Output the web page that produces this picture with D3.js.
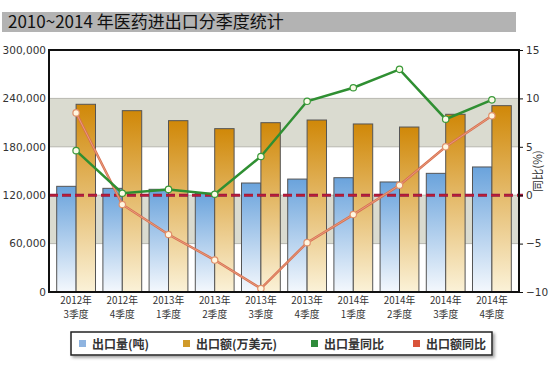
<!DOCTYPE html>
<html><head><meta charset="utf-8">
<script src="https://cdn.jsdelivr.net/npm/d3@7/dist/d3.min.js"></script>
<style>body{margin:0;background:#fff;}svg{display:block;font-family:"Noto Sans CJK SC","DejaVu Sans",sans-serif;}</style>
</head><body>
<svg id="c" width="550" height="374"></svg>
<script>
const years = ["2012年","2012年","2013年","2013年","2013年","2013年","2014年","2014年","2014年","2014年"];
const quarters = ["3季度","4季度","1季度","2季度","3季度","4季度","1季度","2季度","3季度","4季度"];
const exportVolume = [131000,128500,127300,122300,135100,140000,141700,136400,147100,155000];
const exportValue = [232700,224800,212400,202500,209900,213200,208300,204500,220300,231000];
const volumeYoY = [4.6,0.2,0.6,0.1,4.0,9.7,11.1,13.0,7.85,9.85];
const valueYoY = [8.5,-0.96,-4.06,-6.7,-9.64,-4.9,-2.0,1.03,5.0,8.2];
const leftTicks = [0,60000,120000,180000,240000,300000];
const rightTicks = [-10,-5,0,5,10,15];
const legendLabels = ["出口量(吨)","出口额(万美元)","出口量同比","出口额同比"];

const svg = d3.select("#c");
const L=49,R=519,T=50,B=292;
const cats = d3.range(years.length);
const x = d3.scaleBand().domain(cats).range([53,515]).padding(0);
const yL = d3.scaleLinear().domain([0,300000]).range([B,T]);
const yR = d3.scaleLinear().domain([-10,15]).range([B,T]);

// title
svg.append("rect").attr("x",2).attr("y",12).attr("width",514).attr("height",20).attr("fill","#b3b3b3");
svg.append("text").attr("x",8).attr("y",28).attr("font-size",17).attr("fill","#111").text("2010~2014 年医药进出口分季度统计");

const defs = svg.append("defs");
const gb = defs.append("linearGradient").attr("id","gb").attr("x1",0).attr("y1",0).attr("x2",0).attr("y2",1);
gb.append("stop").attr("offset","0%").attr("stop-color","#6aa3dc");
gb.append("stop").attr("offset","100%").attr("stop-color","#f4f8fd");
const go = defs.append("linearGradient").attr("id","go").attr("x1",0).attr("y1",0).attr("x2",0).attr("y2",1);
go.append("stop").attr("offset","0%").attr("stop-color","#d08808");
go.append("stop").attr("offset","100%").attr("stop-color","#fbf2d8");
const sh = defs.append("filter").attr("id","sh").attr("x","-5%").attr("y","-20%").attr("width","115%").attr("height","160%");
sh.append("feDropShadow").attr("dx",2).attr("dy",2).attr("stdDeviation",1.5).attr("flood-color","#777").attr("flood-opacity",0.7);

// bands
for(let i=0;i<leftTicks.length-1;i++){
  if(i%2===1){
    svg.append("rect").attr("x",L).attr("width",R-L)
      .attr("y",yL(leftTicks[i+1])).attr("height",yL(leftTicks[i])-yL(leftTicks[i+1]))
      .attr("fill","#dadbd0");
  }
}
svg.selectAll(".grid").data(leftTicks.slice(1,-1)).enter().append("line")
  .attr("x1",L).attr("x2",R).attr("y1",d=>yL(d)).attr("y2",d=>yL(d))
  .attr("stroke","#b8b8b0").attr("stroke-width",1);

const bw = x.bandwidth()*0.42;
svg.selectAll(".bv").data(exportVolume).enter().append("rect")
  .attr("x",(d,i)=>x(i)+x.bandwidth()/2-bw).attr("width",bw)
  .attr("y",d=>yL(d)).attr("height",d=>B-yL(d))
  .attr("fill","url(#gb)").attr("stroke","#555").attr("stroke-width",1);
svg.selectAll(".bo").data(exportValue).enter().append("rect")
  .attr("x",(d,i)=>x(i)+x.bandwidth()/2).attr("width",bw)
  .attr("y",d=>yL(d)).attr("height",d=>B-yL(d))
  .attr("fill","url(#go)").attr("stroke","#555").attr("stroke-width",1);

// zero dashed line
svg.append("line").attr("x1",L).attr("x2",R+4).attr("y1",yR(0)).attr("y2",yR(0))
  .attr("stroke","#8e1846").attr("stroke-width",3).attr("stroke-dasharray","9,4");
svg.append("line").attr("x1",L).attr("x2",R+4).attr("y1",yR(0)).attr("y2",yR(0))
  .attr("stroke","#d4202a").attr("stroke-width",1).attr("stroke-dasharray","9,4");

const cx = i=>x(i)+x.bandwidth()/2;
const line = d3.line().x((d,i)=>cx(i));
svg.append("path").attr("d",line.y(d=>yR(d))(valueYoY)).attr("fill","none")
  .attr("stroke","#d8704f").attr("stroke-width",2.5);
svg.append("path").attr("d",line.y(d=>yR(d))(valueYoY)).attr("fill","none")
  .attr("stroke","#eaa58a").attr("stroke-width",0.8);
svg.append("path").attr("d",line.y(d=>yR(d))(volumeYoY)).attr("fill","none")
  .attr("stroke","#2f8f32").attr("stroke-width",2.5);
svg.selectAll(".pg").data(volumeYoY).enter().append("circle")
  .attr("cx",(d,i)=>cx(i)).attr("cy",d=>yR(d)).attr("r",3.2)
  .attr("fill","#fbfbe8").attr("stroke","#3a9a3a").attr("stroke-width",1.2);
svg.selectAll(".po").data(valueYoY).enter().append("circle")
  .attr("cx",(d,i)=>cx(i)).attr("cy",d=>yR(d)).attr("r",3.2)
  .attr("fill","#fff6e0").attr("stroke","#e0906a").attr("stroke-width",1.2);

// frame
svg.append("rect").attr("x",L).attr("y",T).attr("width",R-L).attr("height",B-T)
  .attr("fill","none").attr("stroke","#111").attr("stroke-width",2);

// axes
const axL = svg.append("g").attr("transform",`translate(${L},0)`)
  .call(d3.axisLeft(yL).tickValues(leftTicks).tickSize(0).tickPadding(3).tickFormat(d3.format(",")));
const axR = svg.append("g").attr("transform",`translate(${R},0)`)
  .call(d3.axisRight(yR).tickValues(rightTicks).tickSize(4).tickPadding(3));
[axL,axR].forEach(a=>{a.select(".domain").remove();
  a.selectAll("text").attr("font-family","'DejaVu Sans',sans-serif").attr("font-size",10.5).attr("fill","#333");
  a.selectAll("line").attr("stroke","#111");});

const axB = svg.append("g").attr("transform",`translate(0,${B})`)
  .call(d3.axisBottom(x).tickSize(0).tickFormat(d=>years[d]));
axB.select(".domain").remove();
axB.selectAll(".tick text").attr("font-size",9.8).attr("fill","#333")
  .attr("font-family","'Noto Sans CJK SC',sans-serif").attr("y",5).attr("dy","0.71em");
axB.selectAll(".tick").append("text").attr("font-size",9.8).attr("fill","#333")
  .attr("font-family","'Noto Sans CJK SC',sans-serif").attr("text-anchor","middle")
  .attr("y",19).attr("dy","0.71em").text(d=>quarters[d]);

svg.append("text").attr("transform",`translate(542,${yR(2.5)}) rotate(-90)`)
  .attr("text-anchor","middle").attr("font-size",11.5).attr("fill","#333").text("同比(%)");

// legend
const lg = svg.append("g");
lg.append("rect").attr("x",71).attr("y",332).attr("width",421).attr("height",23)
  .attr("fill","#fff").attr("stroke","#222").attr("stroke-width",1.5).attr("filter","url(#sh)");
const lcol = ["#8fb4e0","#d09a2a","#2e8b3a","#d9533a"];
const lx = [79,183,311,413];
legendLabels.forEach((s,i)=>{
  lg.append("rect").attr("x",lx[i]).attr("y",340).attr("width",7).attr("height",7).attr("fill",lcol[i]);
  lg.append("text").attr("x",lx[i]+13).attr("y",348.5).attr("font-size",12).attr("font-weight","bold").attr("fill","#333").text(s);
});
</script>
</body></html>
